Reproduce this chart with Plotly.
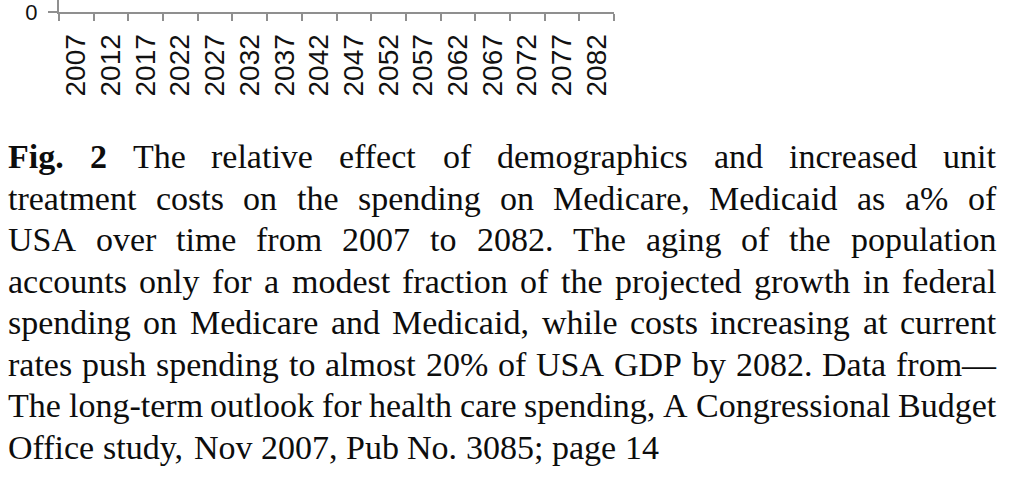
import plotly.graph_objects as go

# ---------------- data ----------------
years = ["2007", "2012", "2017", "2022", "2027", "2032", "2037", "2042",
         "2047", "2052", "2057", "2062", "2067", "2072", "2077", "2082"]
y_tick_step = 5          # % of GDP axis step (only 0 visible in the crop)
y_visible_max = 1.2      # visible part of the value axis in the crop

caption_lines = [
    "<b>Fig.</b> <b>2</b> The relative effect of demographics and increased unit",
    "treatment costs on the spending on Medicare, Medicaid as a% of",
    "USA over time from 2007 to 2082. The aging of the population",
    "accounts only for a modest fraction of the projected growth in federal",
    "spending on Medicare and Medicaid, while costs increasing at current",
    "rates push spending to almost 20% of USA GDP by 2082. Data from\u2014",
    "The long-term outlook for health care spending, A Congressional Budget",
    "Office study, Nov 2007, Pub No. 3085; page 14",
]

# ---------------- layout constants ----------------
W, H = 1024, 488
GRAY = "#8f8f8f"
CAP_SIZE = 34
CAP_LEFT, CAP_RIGHT = 7, 995
BASE0, LINE_STEP = 168, 41.5

# Times / Liberation Serif advance widths (1/1000 em)
TW = dict(zip("abcdefghijklmnopqrstuvwxyz",
              [444, 500, 444, 500, 444, 333, 500, 500, 278, 278, 500, 278, 778,
               500, 500, 500, 500, 333, 389, 278, 500, 500, 722, 500, 500, 444]))
TW.update(dict(zip("ABCDEFGHIJKLMNOPQRSTUVWXYZ",
                   [722, 667, 667, 722, 611, 556, 722, 722, 333, 389, 722, 611, 889,
                    722, 722, 556, 722, 667, 556, 611, 722, 722, 944, 722, 722, 611])))
TW.update({d: 500 for d in "0123456789"})
TW.update({" ": 250, ".": 250, ",": 250, ";": 278, ":": 278, "-": 333,
           "%": 833, "\u2014": 1000})
TWB = dict(TW)
TWB.update({"F": 611})


def word_width(w, size):
    bold = w.startswith("<b>")
    txt = w.replace("<b>", "").replace("</b>", "")
    table = TWB if bold else TW
    return sum(table.get(c, 500) for c in txt) * size / 1000.0


annotations = []
for i, line in enumerate(caption_lines):
    words = line.split(" ")
    widths = [word_width(w, CAP_SIZE) for w in words]
    last = i == len(caption_lines) - 1
    if last or len(words) < 2:
        gap = 250 * CAP_SIZE / 1000.0
    else:
        gap = (CAP_RIGHT - CAP_LEFT - sum(widths)) / (len(words) - 1)
    x = CAP_LEFT
    baseline = BASE0 + i * LINE_STEP
    yc = baseline - 0.3375 * CAP_SIZE
    for w, ww in zip(words, widths):
        annotations.append(dict(
            text=w, x=x / W, y=1 - yc / H, xref="paper", yref="paper",
            xanchor="left", yanchor="middle", showarrow=False, borderpad=0,
            font=dict(family="Liberation Serif", size=CAP_SIZE, color="#0d0d0d"),
        ))
        x += ww + gap

fig = go.Figure(go.Scatter(x=years, y=[None] * len(years), mode="lines",
                           showlegend=False, hoverinfo="skip"))

fig.update_layout(
    template="none",
    width=W, height=H, autosize=False,
    margin=dict(l=0, r=0, t=0, b=0),
    paper_bgcolor="white", plot_bgcolor="white",
    showlegend=False,
    xaxis=dict(
        type="category", categoryorder="array", categoryarray=years,
        range=[-0.5, len(years) - 0.5], tickson="boundaries",
        domain=[59 / W, 614 / W], anchor="y",
        showline=True, linecolor=GRAY, linewidth=2,
        ticks="outside", ticklen=7, tickwidth=2, tickcolor=GRAY,
        tickangle=-90, showgrid=False, zeroline=False, automargin=False,
        ticklabelstandoff=9, ticklabeloverflow="allow",
        tickfont=dict(family="Liberation Sans", size=28, color="#111111"),
    ),
    yaxis=dict(
        domain=[1 - 12 / H, 1], anchor="x",
        range=[0, y_visible_max], tick0=0, dtick=y_tick_step,
        showline=True, linecolor=GRAY, linewidth=2,
        ticks="outside", ticklen=9, tickwidth=2, tickcolor=GRAY,
        showgrid=False, zeroline=False, automargin=False,
        ticklabelstandoff=6, ticklabeloverflow="allow",
        tickfont=dict(family="Liberation Sans", size=22, color="#111111"),
    ),
    annotations=annotations,
)

fig.write_html("out.html",
               config={"displayModeBar": False},
               post_script="document.body.style.margin='0';"
                           "document.body.style.overflow='hidden';")
